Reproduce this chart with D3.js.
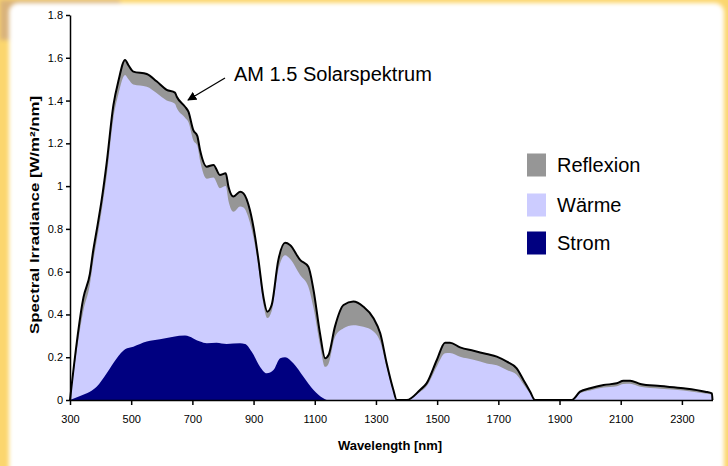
<!DOCTYPE html>
<html>
<head>
<meta charset="utf-8">
<script src="https://cdn.jsdelivr.net/npm/d3@7"></script>
<style>
  body { margin: 0; background: #fff; }
  svg { display: block; font-family: "Liberation Sans", Arial, sans-serif; }
  .axis path, .axis line { stroke: #000; stroke-width: 1.5px; }
  .axis text { font-size: 11px; fill: #000; }
</style>
</head>
<body>
<div id="chart-area"></div>
<script>
// wavelength sample points [nm]
let wavelengths = [300, 344, 365, 376, 388, 404, 420, 442, 458, 480, 491, 507, 551, 583, 616, 643, 649, 676, 687, 703, 716, 725, 747, 769, 790, 809, 818, 834, 856, 867, 888, 905, 916, 932, 945, 959, 981, 1003, 1019, 1052, 1079, 1096, 1117, 1134, 1145, 1166, 1194, 1226, 1259, 1292, 1314, 1335, 1357, 1368, 1401, 1444, 1466, 1499, 1526, 1542, 1575, 1619, 1662, 1695, 1728, 1760, 1782, 1804, 1820, 1940, 1967, 2000, 2044, 2087, 2109, 2131, 2164, 2229, 2305, 2376, 2398, 2400];

// AM 1.5 spectrum (top outline, incl. reflexion)
let totalIrr = [0, 0.48, 0.59, 0.70, 0.80, 0.94, 1.11, 1.38, 1.49, 1.59, 1.565, 1.535, 1.524, 1.49, 1.45, 1.437, 1.418, 1.371, 1.348, 1.262, 1.235, 1.169, 1.091, 1.099, 1.052, 1.06, 0.997, 0.951, 0.974, 0.966, 0.888, 0.763, 0.655, 0.483, 0.413, 0.444, 0.655, 0.735, 0.725, 0.655, 0.623, 0.514, 0.313, 0.195, 0.21, 0.343, 0.444, 0.46, 0.436, 0.382, 0.312, 0.172, 0.047, 0, 0, 0.047, 0.079, 0.187, 0.268, 0.268, 0.246, 0.23, 0.215, 0.203, 0.179, 0.148, 0.094, 0.039, 0, 0, 0.039, 0.055, 0.07, 0.078, 0.09, 0.09, 0.075, 0.065, 0.055, 0.039, 0.031, 0];

// absorbed part (Wärme + Strom), the rest up to totalIrr is Reflexion
let absorbedIrr = [0, 0.42, 0.54, 0.65, 0.75, 0.89, 1.05, 1.32, 1.43, 1.52, 1.50, 1.475, 1.465, 1.435, 1.40, 1.385, 1.365, 1.32, 1.30, 1.215, 1.19, 1.12, 1.035, 1.04, 0.99, 1.0, 0.93, 0.88, 0.905, 0.90, 0.83, 0.72, 0.62, 0.45, 0.383, 0.415, 0.61, 0.677, 0.66, 0.585, 0.53, 0.43, 0.26, 0.155, 0.17, 0.295, 0.335, 0.35, 0.342, 0.32, 0.272, 0.152, 0.04, 0, 0, 0.037, 0.065, 0.157, 0.218, 0.22, 0.202, 0.188, 0.171, 0.162, 0.14, 0.118, 0.074, 0.03, 0, 0, 0.032, 0.045, 0.058, 0.064, 0.075, 0.076, 0.062, 0.053, 0.045, 0.03, 0.024, 0];

// Strom (electricity) part
let stromNm = [300, 333, 365, 387, 420, 453, 480, 507, 551, 594, 638, 676, 703, 725, 747, 779, 812, 856, 872, 894, 921, 943, 965, 987, 1003, 1030, 1063, 1096, 1128, 1139];
let stromIrr = [0, 0.019, 0.039, 0.062, 0.125, 0.195, 0.237, 0.249, 0.273, 0.284, 0.296, 0.301, 0.288, 0.273, 0.265, 0.268, 0.262, 0.265, 0.262, 0.226, 0.156, 0.125, 0.14, 0.195, 0.2, 0.172, 0.109, 0.047, 0.008, 0];

let xTicks = [300, 500, 700, 900, 1100, 1300, 1500, 1700, 1900, 2100, 2300];
let yTicks = [0, 0.2, 0.4, 0.6, 0.8, 1, 1.2, 1.4, 1.6, 1.8];

let legendItems = ["Reflexion", "Wärme", "Strom"];
let legendColors = ["#969696", "#ccccff", "#000080"];

let width = 728, height = 466;

let svg = d3.select("#chart-area")
	.append("svg")
	.attr("width", width)
	.attr("height", height);

// slide frame
let defs = svg.append("defs");
defs.append("filter").attr("id", "soft")
	.append("feGaussianBlur").attr("stdDeviation", 2);
svg.append("rect")
	.attr("width", width).attr("height", height)
	.attr("fill", "#fbd66e");
svg.append("rect")
	.attr("x", 0).attr("y", 0).attr("width", 120).attr("height", 40)
	.attr("fill", "#d9b27a").attr("filter", "url(#soft)");
svg.append("rect")
	.attr("x", 9).attr("y", 3).attr("width", 715).attr("height", 480)
	.attr("rx", 9)
	.attr("fill", "#fff")
	.attr("filter", "url(#soft)");

let xScale = d3.scaleLinear()
	.domain([300, 2400])
	.range([70, 712.5]);

let yScale = d3.scaleLinear()
	.domain([0, 1.8])
	.range([400, 15]);

let totalData = wavelengths.map((w, i) => ({nm: w, v: totalIrr[i]}));
let absorbedData = wavelengths.map((w, i) => ({nm: w, v: absorbedIrr[i]}));
let stromData = stromNm.map((w, i) => ({nm: w, v: stromIrr[i]}));

let area = d3.area()
	.x(d => xScale(d.nm))
	.y0(yScale(0))
	.y1(d => yScale(d.v))
	.curve(d3.curveMonotoneX);

let line = d3.line()
	.x(d => xScale(d.nm))
	.y(d => yScale(d.v))
	.curve(d3.curveMonotoneX);

// Reflexion = everything under the outline, painted over by the rest
svg.append("path").datum(totalData)
	.attr("d", area).attr("fill", legendColors[0]);
svg.append("path").datum(absorbedData)
	.attr("d", area).attr("fill", legendColors[1]);
svg.append("path").datum(stromData)
	.attr("d", area).attr("fill", legendColors[2]);
svg.append("path").datum(totalData)
	.attr("d", line)
	.attr("fill", "none")
	.attr("stroke", "#000")
	.attr("stroke-width", 2);

// axes
let xAxis = d3.axisBottom(xScale)
	.tickValues(xTicks)
	.tickFormat(d => d)
	.tickSize(5)
	.tickPadding(10)
	.tickSizeOuter(0);

svg.append("g")
	.attr("class", "axis x-axis")
	.attr("transform", "translate(0," + yScale(0) + ")")
	.call(xAxis);

let yAxis = d3.axisLeft(yScale)
	.tickValues(yTicks)
	.tickFormat(d => d)
	.tickSize(4)
	.tickPadding(3)
	.tickSizeOuter(0);

svg.append("g")
	.attr("class", "axis y-axis")
	.attr("transform", "translate(" + xScale(300) + ",0)")
	.call(yAxis);

// axis labels
svg.append("text")
	.attr("x", 390).attr("y", 450)
	.attr("text-anchor", "middle")
	.style("font-size", "13px").style("font-weight", "bold")
	.text("Wavelength [nm]");

svg.append("text")
	.attr("transform", "translate(39,215) rotate(-90)")
	.attr("text-anchor", "middle")
	.attr("textLength", 238)
	.attr("lengthAdjust", "spacingAndGlyphs")
	.style("font-size", "13px").style("font-weight", "bold")
	.text("Spectral Irradiance [W/m²/nm]");

// annotation
defs.append("marker")
	.attr("id", "arrow")
	.attr("viewBox", "0 0 10 10")
	.attr("refX", 9).attr("refY", 5)
	.attr("markerWidth", 7).attr("markerHeight", 7)
	.attr("orient", "auto")
	.append("path").attr("d", "M0,0 L10,5 L0,10 z").attr("fill", "#000");

svg.append("line")
	.attr("x1", 225).attr("y1", 78)
	.attr("x2", 188).attr("y2", 100)
	.attr("stroke", "#000").attr("stroke-width", 1.3)
	.attr("marker-end", "url(#arrow)");

svg.append("text")
	.attr("x", 234).attr("y", 81)
	.style("font-size", "20px")
	.text("AM 1.5 Solarspektrum");

// legend
let legend = svg.append("g");
legendItems.forEach((name, i) => {
	let cy = [165, 205, 243][i];
	legend.append("rect")
		.attr("x", 527).attr("y", cy - 11.5)
		.attr("width", 19).attr("height", 23)
		.attr("fill", legendColors[i]);
	legend.append("text")
		.attr("x", 557).attr("y", cy + 7)
		.style("font-size", "20px")
		.text(name);
});
</script>
</body>
</html>
